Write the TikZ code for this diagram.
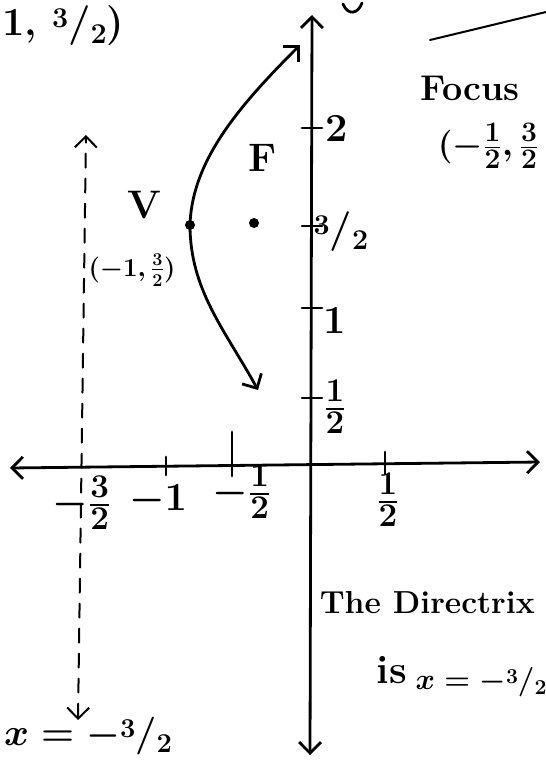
\documentclass[tikz,border=0pt]{standalone}
\usepackage{amsmath,amssymb}
\usepackage{tikz}
\usetikzlibrary{arrows.meta}
\usetikzlibrary{positioning}

\newcommand{\slfrac}[2]{\raisebox{.45ex}{\scalebox{.72}{#1}}/\raisebox{-.4ex}{\scalebox{.72}{#2}}}

\begin{document}
\begin{tikzpicture}[x=1pt,y=-1pt,line width=2.8pt,line cap=round,
	lbl/.style={inner sep=0pt,font=\Huge\bfseries\boldmath,scale=1.6},
	small/.style={inner sep=0pt,font=\huge\bfseries\boldmath,scale=1.25},
	tip/.style={-{Straight Barb[length=11pt,width=22pt]}},
	twotips/.style={{Straight Barb[length=11pt,width=22pt]}-{Straight Barb[length=11pt,width=22pt]}},
	dirline/.style={dash pattern=on 14pt off 11pt,line width=2pt},
	pt/.style={circle,fill,inner sep=0pt,minimum size=10pt}]
		\useasboundingbox (0,0) rectangle (546,763);
		
		% axes
		\coordinate (xl) at (10,468);
		\coordinate (xr) at (540,462);
		\coordinate (yb) at (310,755);
		\coordinate (yt) at (312,15);
		\draw[twotips] (xl) -- (xr);
		\draw[twotips] (yb) -- (yt);
		
		% ticks on the x axis
		\coordinate (tx1) at (166,467);
		\coordinate (tx2) at (232,466);
		\coordinate (tx3) at (385,464);
		\draw ([yshift=10pt]tx1) -- ([yshift=-8pt]tx1);
		\draw ([yshift=34pt]tx2) -- ([yshift=-10pt]tx2);
		\draw ([yshift=12pt]tx3) -- ([yshift=-10pt]tx3);
		
		% ticks on the y axis
		\coordinate (ty1) at (312,128);
		\coordinate (ty2) at (312,226);
		\coordinate (ty3) at (312,308);
		\coordinate (ty4) at (312,398);
		\draw ([xshift=-10pt]ty1) -- ([xshift=10pt]ty1);
		\draw ([xshift=-10pt]ty2) -- ([xshift=10pt]ty2);
		\draw ([xshift=-10pt]ty3) -- ([xshift=10pt]ty3);
		\draw ([xshift=-10pt]ty4) -- ([xshift=10pt]ty4);
		
		\node[lbl] (ly1) at (337,128) {2};
		\node[lbl] (ly2) at (341,232) {\slfrac32};
		\node[lbl] (ly3) at (335,320) {1};
		\node[lbl] (ly4) at (335,407) {$\frac12$};
		
		\node[lbl] (lx0) at (82,503) {$-\frac32$};
		\node[lbl] (lx1) at (158,500) {$-1$};
		\node[lbl] (lx2) at (242,492) {$-\frac12$};
		\node[lbl] (lx3) at (388,500) {$\frac12$};
		
		% directrix x=-3/2
		\coordinate (dt) at (86,135);
		\coordinate (db) at (78,720);
		\draw[dirline,twotips] (db) -- (dt);
		\node[lbl,anchor=west,scale=0.95] (ldir) at (2,736) {$x=-$\slfrac32};
		
		% parabola, vertex and focus
		\node[pt] (V) at (190,225) {};
		\node[pt] (F) at (254,223) {};
		\coordinate (pu) at (300,45);
		\coordinate (pl) at (258,390);
		\draw[tip] (V.center) .. controls (192,160) and (240,105) .. (pu);
		\draw[tip] (V.center) .. controls (190,290) and (225,330) .. (pl);
		
		\node[lbl] (lV) at (144,205) {V};
		\node[small] (lVc) at (132,270) {$(-1,\frac32)$};
		\node[lbl] (lF) at (263,158) {F};
		
		% notes round the edges
		\node[lbl,anchor=west] (ltop) at (0,26) {1, \slfrac32)};
		\draw (343,4) .. controls (348,16) and (358,14) .. (362,3);
		\coordinate (ua) at (430,40);
		\coordinate (ub) at (546,12);
		\draw[line width=2pt] (ua) .. controls (480,28) .. (ub);
		\node[lbl,scale=0.9] (lfoc) at (470,88) {Focus};
		\node[lbl,anchor=west,scale=0.85] (lfocc) at (436,146) {$(-\frac12,\frac32$};
		\node[lbl,anchor=west,scale=0.8] (ldx) at (318,603) {The Directrix};
		\node[lbl] (lis) at (392,670) {is};
		\node[lbl,anchor=west,scale=0.74] (ldx2) at (414,682) {$x=-$\slfrac32};
	\end{tikzpicture}
\end{document}
